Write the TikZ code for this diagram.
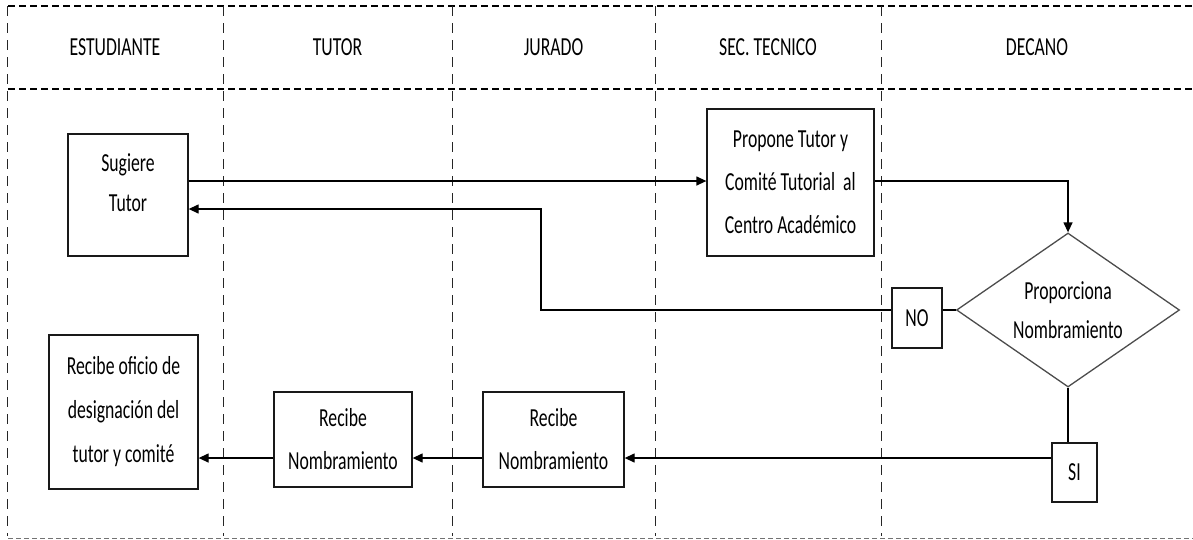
\documentclass[tikz,border=0pt]{standalone}
\usepackage{fontspec}
\setmainfont{Carlito}[FakeStretch=0.68]
\usetikzlibrary{shapes.geometric,arrows.meta}
\begin{document}
\begin{tikzpicture}[x=1pt,y=-1pt,
  txt/.style={font=\fontsize{26}{43}\selectfont,inner sep=0pt,align=center},
  box/.style={txt,draw=black!90,line width=1.3pt},
  dia/.style={txt,draw=black!70,line width=1.3pt,shape=diamond,aspect=1.45},
  arr/.style={line width=1.3pt,-{Triangle[length=10pt,width=9pt]}},
  con/.style={line width=1.3pt},
  hdash/.style={line width=1.2pt,dash pattern=on 7pt off 4pt},
  vdash/.style={line width=0.9pt,draw=black!85,dash pattern=on 10pt off 7pt},
  bdash/.style={line width=1pt,draw=black!55,dash pattern=on 5pt off 3pt}]
\useasboundingbox (0,0) rectangle (1193,539);
% swimlane grid
\draw[hdash] (8,6) -- (1193,6);
\draw[hdash] (8,89) -- (1193,89);
\foreach \xx in {7,223,452,655,881} \draw[vdash] (\xx,6) -- (\xx,536);
\draw[bdash] (8,538) -- (1193,538);
% headers
\node[txt] (h1) at (115,47) {ESTUDIANTE};
\node[txt] (h2) at (337.5,47) {TUTOR};
\node[txt] (h3) at (553.5,47) {JURADO};
\node[txt] (h4) at (768,47) {SEC. TECNICO};
\node[txt] (h5) at (1037,47) {DECANO};
% nodes
\node[box,minimum width=120pt,minimum height=122pt,text depth=24pt,font=\fontsize{26}{40}\selectfont] (sug) at (128,195) {Sugiere\\Tutor};
\node[box,minimum width=167pt,minimum height=147pt] (prop) at (790.5,182.5) {Propone Tutor y\\Comité Tutorial\ \ al\\Centro Académico};
\node[dia,minimum width=223pt,minimum height=154pt,font=\fontsize{26}{39}\selectfont] (dec) at (1068,310) {Proporciona\\Nombramiento};
\node[box,minimum width=50pt,minimum height=60pt] (no) at (917,318) {NO};
\node[box,minimum width=45pt,minimum height=59pt] (si) at (1074.5,472.5) {SI};
\node[box,minimum width=141pt,minimum height=95pt] (rj) at (553.5,439.5) {Recibe\\Nombramiento};
\node[box,minimum width=138pt,minimum height=95pt] (rt) at (343,439.5) {Recibe\\Nombramiento};
\node[box,minimum width=149pt,minimum height=154pt,font=\fontsize{26}{44}\selectfont] (of) at (123.5,412) {Recibe oficio de\\designación del\\tutor y comité};
% helper coordinates
\coordinate (y1) at (0,181);
\coordinate (turn) at (541,209);
\coordinate (y3) at (0,458);
% connectors
\draw[arr] (sug.east|-y1) -- (prop.west|-y1);
\draw[arr] (prop.east|-y1) -| (dec.north);
\draw[con] (dec.west) -- (no.east|-dec.west);
\draw[arr] (no.west|-dec.west) -| (turn) -- (sug.east|-turn);
\draw[con] (dec.south) -- (dec.south|-si.north);
\draw[arr] (si.west|-y3) -- (rj.east|-y3);
\draw[arr] (rj.west|-y3) -- (rt.east|-y3);
\draw[arr] (rt.west|-y3) -- (of.east|-y3);
\end{tikzpicture}
\end{document}
